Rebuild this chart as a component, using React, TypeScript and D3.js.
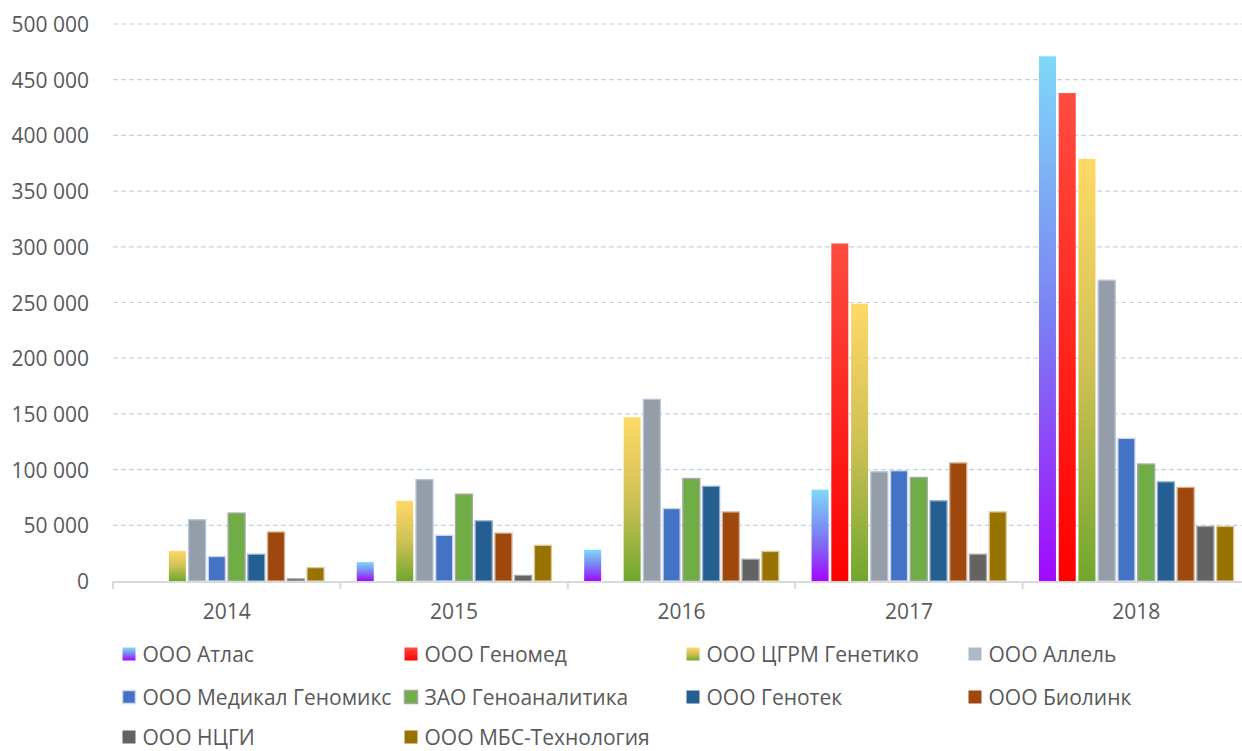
import React from "react";
import * as d3 from "d3";

const years = ["2014", "2015", "2016", "2017", "2018"];
const seriesNames = [
  "ООО Атлас",
  "ООО Геномед",
  "ООО ЦГРМ Генетико",
  "ООО Аллель",
  "ООО Медикал Геномикс",
  "ЗАО Геноаналитика",
  "ООО Генотек",
  "ООО Биолинк",
  "ООО НЦГИ",
  "ООО МБС-Технология",
];
const atlas = [0, 17000, 28000, 82000, 471000];
const genomed = [0, 0, 0, 303000, 438000];
const genetiko = [27000, 72000, 147000, 249000, 379000];
const allel = [55000, 91000, 163000, 98000, 270000];
const medikal = [22000, 41000, 65000, 99000, 128000];
const genoanalitika = [61000, 78000, 92000, 93000, 105000];
const genotek = [24000, 54000, 85000, 72000, 89000];
const biolink = [44000, 43000, 62000, 106000, 84000];
const ncgi = [2000, 5000, 19500, 24000, 49000];
const mbs = [12000, 32000, 26500, 62000, 49000];
const seriesValues = [atlas, genomed, genetiko, allel, medikal, genoanalitika, genotek, biolink, ncgi, mbs];
const yTicks = [0, 50000, 100000, 150000, 200000, 250000, 300000, 350000, 400000, 450000, 500000];

const fills = [
  "url(#gAtlas)",
  "url(#gGenomed)",
  "url(#gGenetiko)",
  "#959EA8",
  "#4472C4",
  "#70AD47",
  "#255E91",
  "#9E480E",
  "#636363",
  "#997300",
];
const strokes = [
  "none",
  "none",
  "none",
  "#B7C6D8",
  "#C9D6EE",
  "#A9A9A9",
  "#8FB0CE",
  "#D7AE92",
  "#A8A8A8",
  "#D9C79A",
];
const legendFills = [
  "url(#gAtlas)",
  "url(#gGenomed)",
  "url(#gGenetiko)",
  "#ADB9CA",
  "#4472C4",
  "#70AD47",
  "#255E91",
  "#9E480E",
  "#636363",
  "#997300",
];
const legendStrokes = ["none", "none", "none", "none", "#D0DCF0", "#A5A5A5", "none", "none", "none", "none"];

const W = 1242;
const H = 751;
const left = 113;
const right = 1250;
const top = 24;
const bottom = 581;
const font = "'Open Sans', sans-serif";
const textColor = "#595959";
const fs = 21;

export default function App() {
  const x0 = d3.scaleBand<string>().domain(years).range([left, right]).padding(0);
  const cw = x0.bandwidth();
  const x1 = d3.scaleBand<string>().domain(seriesNames).range([15, cw - 15]).padding(0);
  const barW = 17;
  const y = d3.scaleLinear().domain([0, 500000]).range([bottom, top]);
  const fmt = (v: number) => d3.format(",")(v).replace(/,/g, " ");

  const legendCols = [122.5, 404.5, 686.5, 968.5];
  const legendRows = [654, 697, 737];

  return (
    <svg
      width={W}
      height={H}
      style={{ position: "fixed", left: 0, top: 0, background: "#fff" }}
      fontFamily={font}
    >
      <defs>
        <linearGradient id="gAtlas" x1="0" y1="0" x2="0" y2="1">
          <stop offset="0" stopColor="#7FD9F8" />
          <stop offset="0.5" stopColor="#7B80F2" />
          <stop offset="1" stopColor="#A208FF" />
        </linearGradient>
        <linearGradient id="gGenomed" x1="0" y1="0" x2="0" y2="1">
          <stop offset="0" stopColor="#FF4C40" />
          <stop offset="1" stopColor="#FF0000" />
        </linearGradient>
        <linearGradient id="gGenetiko" x1="0" y1="0" x2="0" y2="1">
          <stop offset="0" stopColor="#FFD966" />
          <stop offset="0.5" stopColor="#CFC155" />
          <stop offset="1" stopColor="#70A72D" />
        </linearGradient>
      </defs>
      <rect x={0} y={0} width={W} height={H} fill="#fff" />
      {/* gridlines */}
      {yTicks.slice(1).map((t) => (
        <line
          key={t}
          x1={left}
          x2={right}
          y1={y(t)}
          y2={y(t)}
          stroke="#C4D2EA"
          strokeWidth={1.2}
          strokeDasharray="5 3"
        />
      ))}
      {/* y labels */}
      {yTicks.map((t) => (
        <text
          key={t}
          x={89}
          y={y(t)}
          textAnchor="end"
          dominantBaseline="central"
          fontSize={fs}
          fill={textColor}
        >
          {fmt(t)}
        </text>
      ))}
      {/* bars */}
      {years.map((yr, i) => (
        <g key={yr} transform={`translate(${x0(yr)},0)`}>
          {seriesNames.map((s, si) => {
            const v = seriesValues[si][i];
            if (!v) return null;
            const bx = (x1(s) as number) + (x1.bandwidth() - barW) / 2;
            const by = y(v);
            const h = bottom - by;
            const st = strokes[si];
            return (
              <rect
                key={s}
                x={bx}
                y={by}
                width={barW}
                height={h}
                fill={fills[si]}
                stroke={st}
                strokeWidth={st === "none" ? 0 : 1.3}
              />
            );
          })}
        </g>
      ))}
      {/* axis */}
      <line x1={left} x2={right} y1={bottom + 1} y2={bottom + 1} stroke="#D9D9D9" strokeWidth={2} />
      {years.map((yr) => (
        <line
          key={"t" + yr}
          x1={x0(yr) as number}
          x2={x0(yr) as number}
          y1={bottom}
          y2={bottom + 8}
          stroke="#D9D9D9"
          strokeWidth={2}
        />
      ))}
      {years.map((yr) => (
        <text
          key={"l" + yr}
          x={(x0(yr) as number) + cw / 2}
          y={611}
          textAnchor="middle"
          dominantBaseline="central"
          fontSize={fs}
          fill={textColor}
        >
          {yr}
        </text>
      ))}
      {/* legend */}
      {seriesNames.map((s, si) => {
        const cx = legendCols[si % 4];
        const cy = legendRows[Math.floor(si / 4)];
        const ls = legendStrokes[si];
        return (
          <g key={"lg" + s}>
            <rect
              x={cx}
              y={cy - 6.5}
              width={13}
              height={13}
              fill={legendFills[si]}
              stroke={ls}
              strokeWidth={ls === "none" ? 0 : 1.5}
            />
            <text x={cx + 20} y={cy} dominantBaseline="central" fontSize={fs} fill={textColor}>
              {s}
            </text>
          </g>
        );
      })}
    </svg>
  );
}
